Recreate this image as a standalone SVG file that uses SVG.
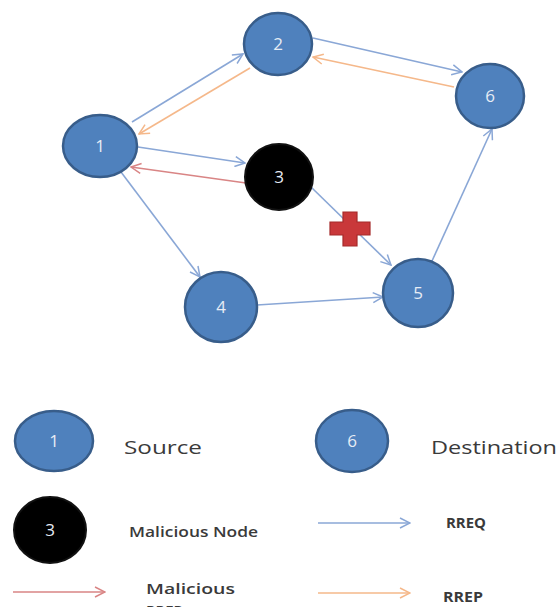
<svg xmlns="http://www.w3.org/2000/svg" width="560" height="607" viewBox="0 0 560 607">
<style>
.node{fill:#4f81bd;stroke:#385d8a;stroke-width:2.5}
.mal{fill:#000;stroke:#111;stroke-width:2}
.nl{font-family:"Open Sans","Liberation Sans",sans-serif;font-size:17px;fill:#e6ecf5;text-anchor:middle}
.lg{font-family:"Open Sans","Liberation Sans",sans-serif;fill:#3a3a3a}
.b{stroke:#8aa7d6;stroke-width:1.6;fill:none}
.o{stroke:#f5b88a;stroke-width:1.6;fill:none}
.r{stroke:#d98585;stroke-width:1.6;fill:none}
</style>
<defs>
<marker id="ab" viewBox="0 0 12 12" refX="11" refY="6" markerWidth="12" markerHeight="12" markerUnits="userSpaceOnUse" orient="auto"><path d="M1,1 L11,6 L1,11" fill="none" stroke="#8aa7d6" stroke-width="1.5"/></marker>
<marker id="ao" viewBox="0 0 12 12" refX="11" refY="6" markerWidth="12" markerHeight="12" markerUnits="userSpaceOnUse" orient="auto"><path d="M1,1 L11,6 L1,11" fill="none" stroke="#f5b88a" stroke-width="1.5"/></marker>
<marker id="ar" viewBox="0 0 12 12" refX="11" refY="6" markerWidth="12" markerHeight="12" markerUnits="userSpaceOnUse" orient="auto"><path d="M1,1 L11,6 L1,11" fill="none" stroke="#d98585" stroke-width="1.5"/></marker>
</defs>
<rect width="560" height="607" fill="#fff"/>
<g id="connectors">
<line class="b" x1="132" y1="122" x2="243" y2="54" marker-end="url(#ab)"/>
<line class="o" x1="250" y1="68" x2="139" y2="134" marker-end="url(#ao)"/>
<line class="b" x1="313" y1="38" x2="462" y2="72" marker-end="url(#ab)"/>
<line class="o" x1="454" y1="87" x2="313" y2="57" marker-end="url(#ao)"/>
<line class="b" x1="138" y1="147" x2="245" y2="163" marker-end="url(#ab)"/>
<line class="r" x1="246" y1="183" x2="131" y2="167" marker-end="url(#ar)"/>
<line class="b" x1="121" y1="172" x2="200" y2="277" marker-end="url(#ab)"/>
<line class="b" x1="311" y1="187" x2="391" y2="265" marker-end="url(#ab)"/>
<line class="b" x1="257" y1="305" x2="383" y2="297" marker-end="url(#ab)"/>
<line class="b" x1="432" y1="261" x2="492" y2="129" marker-end="url(#ab)"/>
</g>
<g id="cross">
<path d="M343,212 h14 v10 h13 v13 h-13 v11 h-14 v-11 h-13 v-13 h13 z" fill="#c9383a" stroke="#a52a2a" stroke-width="1.2"/>
</g>
<g id="node1"><ellipse class="node" cx="100" cy="146" rx="37" ry="31"/><text class="nl" x="100" y="152">1</text></g>
<g id="node2"><ellipse class="node" cx="278" cy="44" rx="34" ry="31"/><text class="nl" x="278" y="50">2</text></g>
<g id="node6"><ellipse class="node" cx="490" cy="96" rx="34" ry="32"/><text class="nl" x="490" y="102">6</text></g>
<g id="node3"><ellipse class="mal" cx="279" cy="177" rx="34" ry="33"/><text class="nl" x="279" y="183">3</text></g>
<g id="node4"><ellipse class="node" cx="221" cy="307" rx="36" ry="35"/><text class="nl" x="221" y="313">4</text></g>
<g id="node5"><ellipse class="node" cx="418" cy="293" rx="35" ry="34"/><text class="nl" x="418" y="299">5</text></g>
<g id="legend">
<g id="leg-source"><ellipse class="node" cx="54" cy="441" rx="39" ry="30"/><text class="nl" x="54" y="447" font-size="16">1</text>
<text class="lg" x="124" y="454" font-size="19" textLength="78" lengthAdjust="spacingAndGlyphs">Source</text></g>
<g id="leg-dest"><ellipse class="node" cx="352" cy="441" rx="36" ry="31"/><text class="nl" x="352" y="447" font-size="16">6</text>
<text class="lg" x="431" y="454" font-size="19" textLength="126" lengthAdjust="spacingAndGlyphs">Destination</text></g>
<g id="leg-mal"><ellipse class="mal" cx="50" cy="530" rx="36" ry="33"/><text class="nl" x="50" y="536" font-size="16">3</text>
<text class="lg" x="129" y="537" font-size="15" font-weight="600" textLength="129" lengthAdjust="spacingAndGlyphs">Malicious Node</text></g>
<g id="leg-rreq"><line class="b" x1="318" y1="523" x2="410" y2="523" marker-end="url(#ab)"/>
<text class="lg" x="446" y="528" font-size="14" font-weight="700" textLength="40" lengthAdjust="spacingAndGlyphs">RREQ</text></g>
<g id="leg-malrrep"><line class="r" x1="13" y1="592" x2="105" y2="592" marker-end="url(#ar)"/>
<text class="lg" x="146" y="594" font-size="15" font-weight="600" textLength="89" lengthAdjust="spacingAndGlyphs">Malicious</text>
<text class="lg" x="146" y="616" font-size="15" font-weight="600">RREP</text></g>
<g id="leg-rrep"><line class="o" x1="318" y1="593" x2="410" y2="593" marker-end="url(#ao)"/>
<text class="lg" x="443" y="602" font-size="14" font-weight="700" textLength="40" lengthAdjust="spacingAndGlyphs">RREP</text></g>
</g>
</svg>
